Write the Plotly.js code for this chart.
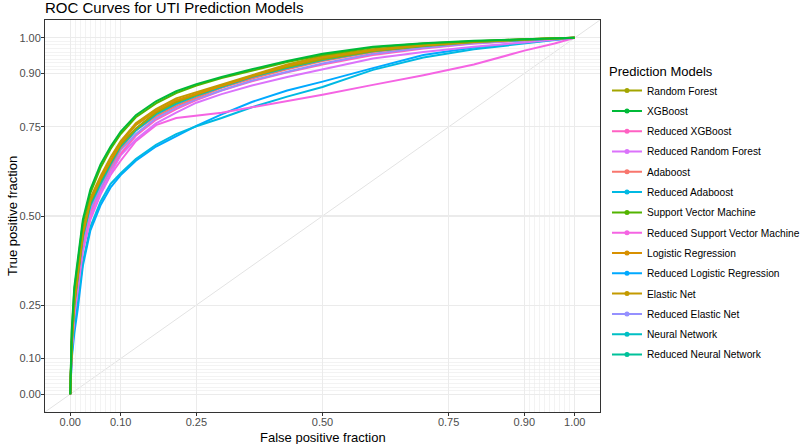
<!DOCTYPE html>
<html>
<head>
<meta charset="utf-8">
<script src="https://cdn.plot.ly/plotly-3.0.1.min.js"></script>
<style>
  body { margin: 0; background: #fff; }
  #chart { width: 800px; height: 444px; }
</style>
</head>
<body>
<div id="chart"></div>
<script>
// Shared false positive fraction grid
const fpr = [0, 0.003, 0.008, 0.015, 0.025, 0.04, 0.06, 0.08, 0.1, 0.13, 0.17, 0.21, 0.25, 0.3, 0.36, 0.43, 0.5, 0.6, 0.7, 0.8, 0.9, 0.96, 1];

// True positive fraction per model
const tprRandomForest     = [0, 0.14, 0.25, 0.33, 0.45, 0.54, 0.60, 0.652, 0.70, 0.745, 0.79, 0.82, 0.84, 0.865, 0.892, 0.918, 0.940, 0.963, 0.978, 0.988, 0.995, 0.999, 1];
const tprXGBoost          = [0, 0.18, 0.30, 0.38, 0.49, 0.575, 0.645, 0.695, 0.737, 0.783, 0.822, 0.85, 0.87, 0.89, 0.912, 0.935, 0.955, 0.975, 0.985, 0.992, 0.997, 0.999, 1];
const tprRedXGBoost       = [0, 0.13, 0.23, 0.31, 0.42, 0.51, 0.575, 0.63, 0.675, 0.725, 0.77, 0.80, 0.825, 0.852, 0.878, 0.903, 0.925, 0.952, 0.970, 0.984, 0.993, 0.998, 1];
const tprRedRandomForest  = [0, 0.12, 0.22, 0.30, 0.41, 0.50, 0.565, 0.62, 0.67, 0.715, 0.76, 0.79, 0.818, 0.842, 0.866, 0.89, 0.912, 0.942, 0.960, 0.975, 0.987, 0.995, 1];
const tprAdaboost         = [0, 0.14, 0.25, 0.33, 0.44, 0.53, 0.59, 0.64, 0.69, 0.74, 0.78, 0.81, 0.833, 0.86, 0.886, 0.912, 0.935, 0.960, 0.976, 0.987, 0.995, 0.999, 1];
const tprRedAdaboost      = [0, 0.11, 0.19, 0.26, 0.37, 0.47, 0.54, 0.59, 0.62, 0.66, 0.70, 0.73, 0.752, 0.775, 0.805, 0.835, 0.862, 0.910, 0.945, 0.968, 0.985, 0.995, 1];
const tprSVM              = [0, 0.17, 0.29, 0.37, 0.48, 0.565, 0.635, 0.688, 0.73, 0.777, 0.816, 0.845, 0.866, 0.887, 0.908, 0.932, 0.952, 0.973, 0.984, 0.991, 0.996, 0.999, 1];
const tprRedSVM           = [0, 0.13, 0.22, 0.30, 0.40, 0.49, 0.56, 0.615, 0.655, 0.71, 0.755, 0.775, 0.782, 0.79, 0.805, 0.822, 0.84, 0.868, 0.895, 0.925, 0.964, 0.984, 1];
const tprLogistic         = [0, 0.15, 0.26, 0.34, 0.45, 0.545, 0.605, 0.655, 0.705, 0.755, 0.795, 0.825, 0.843, 0.867, 0.892, 0.922, 0.945, 0.966, 0.979, 0.989, 0.996, 0.999, 1];
const tprRedLogistic      = [0, 0.10, 0.17, 0.24, 0.36, 0.46, 0.53, 0.58, 0.615, 0.655, 0.695, 0.725, 0.753, 0.785, 0.82, 0.852, 0.877, 0.915, 0.952, 0.973, 0.986, 0.995, 1];
const tprElasticNet       = [0, 0.15, 0.27, 0.35, 0.46, 0.55, 0.612, 0.665, 0.71, 0.76, 0.80, 0.83, 0.847, 0.87, 0.895, 0.925, 0.948, 0.968, 0.980, 0.990, 0.996, 0.999, 1];
const tprRedElasticNet    = [0, 0.13, 0.24, 0.32, 0.43, 0.52, 0.58, 0.635, 0.685, 0.73, 0.775, 0.805, 0.828, 0.853, 0.88, 0.905, 0.928, 0.955, 0.972, 0.985, 0.994, 0.998, 1];
const tprNeuralNet        = [0, 0.14, 0.25, 0.33, 0.44, 0.53, 0.59, 0.645, 0.695, 0.74, 0.785, 0.815, 0.837, 0.862, 0.89, 0.915, 0.938, 0.962, 0.977, 0.988, 0.995, 0.999, 1];
const tprRedNeuralNet     = [0, 0.145, 0.255, 0.335, 0.445, 0.535, 0.595, 0.65, 0.70, 0.745, 0.79, 0.82, 0.842, 0.866, 0.893, 0.918, 0.941, 0.964, 0.978, 0.989, 0.995, 0.999, 1];

const modelNames = ['Random Forest', 'XGBoost', 'Reduced XGBoost', 'Reduced Random Forest', 'Adaboost',
    'Reduced Adaboost', 'Support Vector Machine', 'Reduced Support Vector Machine', 'Logistic Regression',
    'Reduced Logistic Regression', 'Elastic Net', 'Reduced Elastic Net', 'Neural Network', 'Reduced Neural Network'];
const modelTpr = [tprRandomForest, tprXGBoost, tprRedXGBoost, tprRedRandomForest, tprAdaboost,
    tprRedAdaboost, tprSVM, tprRedSVM, tprLogistic,
    tprRedLogistic, tprElasticNet, tprRedElasticNet, tprNeuralNet, tprRedNeuralNet];
const modelColors = ['#A3A500', '#00BA38', '#FF61C3', '#DB72FB', '#F8766D',
    '#00B9E3', '#53B400', '#F564E3', '#D89000',
    '#00A9FF', '#C49A00', '#9590FF', '#00BFC4', '#00C19A'];

// order the curves get painted in (top green last)
const drawOrder = [9, 5, 7, 3, 2, 11, 4, 12, 13, 0, 8, 10, 6, 1];

const tickVals = [0, 0.1, 0.25, 0.5, 0.75, 0.9, 1];
const tickText = ['0.00', '0.10', '0.25', '0.50', '0.75', '0.90', '1.00'];
const minorVals = [0.01, 0.02, 0.03, 0.04, 0.05, 0.06, 0.07, 0.08, 0.09,
    0.91, 0.92, 0.93, 0.94, 0.95, 0.96, 0.97, 0.98, 0.99];

const font = 'Liberation Sans, Arial, Helvetica, sans-serif';

const traces = [];
drawOrder.forEach(i => {
    traces.push({
        x: fpr,
        y: modelTpr[i],
        type: 'scatter',
        mode: 'lines',
        name: modelNames[i],
        line: { color: modelColors[i], width: 2 },
        showlegend: false,
        hoverinfo: 'name+x+y'
    });
});
// legend keys (line with a dot, like ggplot), one group each so the gap can be tuned
modelNames.forEach((name, i) => {
    traces.push({
        x: [null],
        y: [null],
        type: 'scatter',
        mode: 'lines+markers',
        name: name,
        legendgroup: 'g' + i,
        line: { color: modelColors[i], width: 2 },
        marker: { color: modelColors[i], size: 5 },
        showlegend: true
    });
});

function axis(standoff) {
    return {
        range: [-0.05, 1.05],
        tickmode: 'array',
        tickvals: tickVals,
        ticktext: tickText,
        tickfont: { family: font, size: 11, color: '#4D4D4D' },
        ticks: 'outside',
        ticklen: 3,
        tickcolor: '#333333',
        ticklabelstandoff: standoff,
        showgrid: true,
        gridcolor: '#EBEBEB',
        gridwidth: 1.1,
        minor: {
            tickmode: 'array',
            tickvals: minorVals,
            showgrid: true,
            gridcolor: '#EBEBEB',
            gridwidth: 0.6,
            ticks: ''
        },
        zeroline: false,
        showline: true,
        mirror: true,
        linecolor: '#333333',
        linewidth: 1
    };
}

const layout = {
    width: 800,
    height: 444,
    title: {
        text: 'ROC Curves for UTI Prediction Models',
        font: { family: font, size: 15, color: '#000' },
        x: 45 / 800,
        xanchor: 'left',
        xref: 'container',
        y: 1 - 8 / 444,
        yanchor: 'middle',
        yref: 'container'
    },
    xaxis: axis(-3),
    yaxis: axis(-2),
    margin: { l: 45, r: 200, t: 20, b: 32, autoexpand: false },
    paper_bgcolor: '#fff',
    plot_bgcolor: '#fff',
    shapes: [{
        type: 'line', xref: 'paper', yref: 'paper',
        x0: 0, y0: 0, x1: 1, y1: 1,
        line: { color: '#E3E3E3', width: 1 },
        layer: 'between'
    }],
    annotations: [
        {
            text: 'False positive fraction', xref: 'paper', yref: 'paper',
            x: 0.5, y: -25 / 392, xanchor: 'center', yanchor: 'middle',
            showarrow: false, font: { family: font, size: 13, color: '#000' }
        },
        {
            text: 'True positive fraction', xref: 'paper', yref: 'paper',
            x: -33 / 555, y: 0.5, xanchor: 'center', yanchor: 'middle', textangle: -90,
            showarrow: false, font: { family: font, size: 13, color: '#000' }
        }
    ],
    showlegend: true,
    legend: {
        x: 1.0126,
        xanchor: 'left',
        y: 0.9,
        yanchor: 'top',
        font: { family: font, size: 10.2, color: '#000' },
        title: { text: 'Prediction Models', font: { family: font, size: 13, color: '#000' } },
        bgcolor: 'rgba(0,0,0,0)',
        tracegroupgap: 1.3
    }
};

Plotly.newPlot('chart', traces, layout, { displayModeBar: false, staticPlot: true });
</script>
</body>
</html>
